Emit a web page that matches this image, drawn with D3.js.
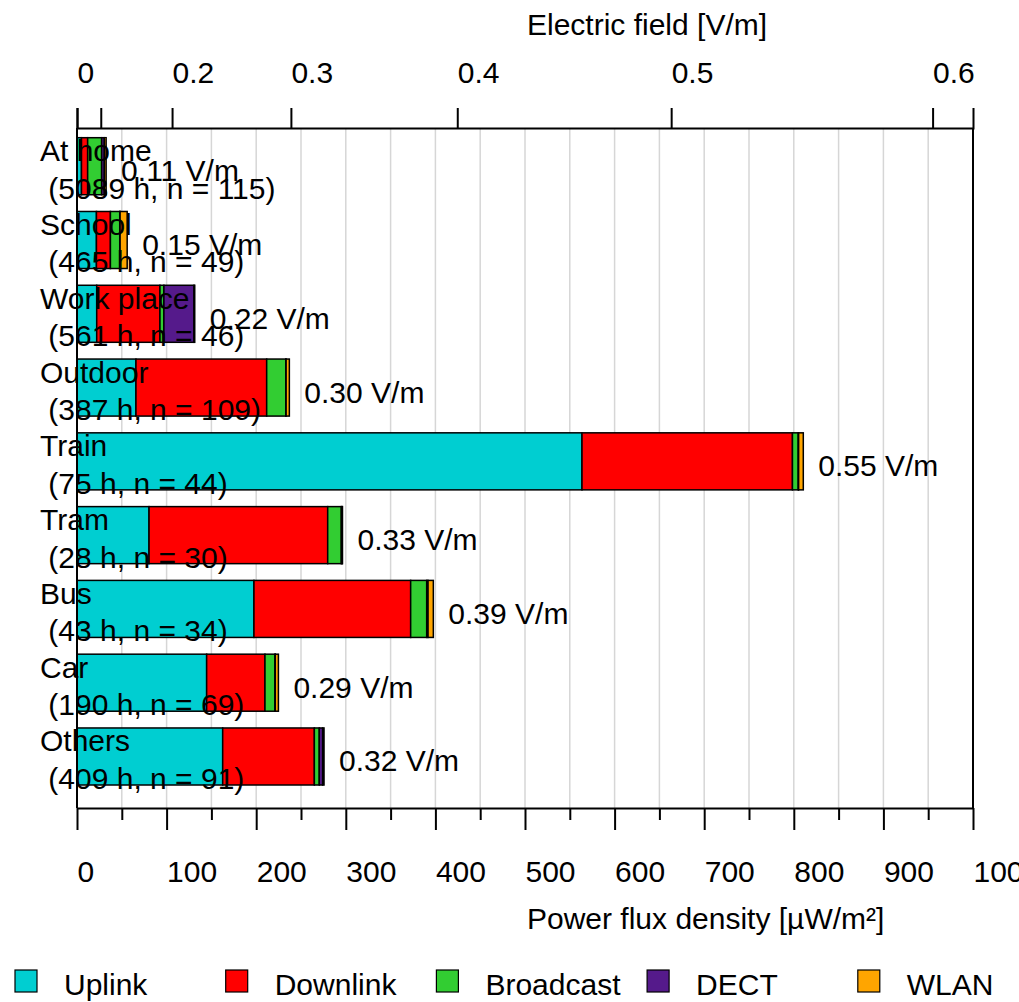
<!DOCTYPE html>
<html>
<head>
<meta charset="utf-8">
<script src="https://cdn.jsdelivr.net/npm/d3@7"></script>
<style>
  html, body { margin: 0; padding: 0; background: #fff; }
  svg { display: block; font-family: "Liberation Sans", Arial, sans-serif; }
  text { fill: #000; }
</style>
</head>
<body>
<svg id="chart" width="1019" height="1002"></svg>
<script>
// Exposure by microenvironment: mean power flux density per source (µW/m²)
const categories = ["At home", "School", "Work place", "Outdoor", "Train", "Tram", "Bus", "Car", "Others"];
const subLabels = ["(5089 h, n = 115)", "(465 h, n = 49)", "(561 h, n = 46)", "(387 h, n = 109)",
                   "(75 h, n = 44)", "(28 h, n = 30)", "(43 h, n = 34)", "(190 h, n = 69)", "(409 h, n = 91)"];
const fieldLabels = ["0.11 V/m", "0.15 V/m", "0.22 V/m", "0.30 V/m", "0.55 V/m", "0.33 V/m", "0.39 V/m", "0.29 V/m", "0.32 V/m"];

const seriesNames = ["Uplink", "Downlink", "Broadcast", "DECT", "WLAN"];
const uplink    = [5.0, 21.7, 22.0, 65.8, 563.6, 80.4, 197.5, 144.7, 162.6];
const downlink  = [6.9, 15.6, 70.6, 145.9, 234.9, 199.4, 174.9, 65.1, 102.3];
const broadcast = [15.6, 10.4, 4.4, 21.3, 6.5, 15.2, 17.9, 11.2, 5.5];
const dect      = [3.0, 0.4, 33.6, 0.4, 0.4, 1.0, 1.5, 0.3, 3.8];
const wlan      = [2.0, 7.9, 0.8, 3.6, 5.2, 0.3, 5.9, 3.5, 1.5];
const seriesColors = ["#00CED1", "#FF0000", "#32CD32", "#551A8B", "#FFA500"];

const bottomTicks = [0, 100, 200, 300, 400, 500, 600, 700, 800, 900, 1000];
const bottomMinorTicks = [50, 150, 250, 350, 450, 550, 650, 750, 850, 950];
const gridValues = [50, 100, 150, 200, 250, 300, 350, 400, 450, 500, 550, 600, 650, 700, 750, 800, 850, 900, 950];
const topTicks = [0, 0.1, 0.2, 0.3, 0.4, 0.5, 0.6];
const topTickLabels = ["0", "", "0.2", "0.3", "0.4", "0.5", "0.6"];

const FS = 30;
const svg = d3.select("#chart");

const plotLeft = 77, plotRight = 973, plotTop = 128, plotBottom = 808;

const x = d3.scaleLinear().domain([0, 1000]).range([plotLeft, plotRight]);
// E = sqrt(S * Z0), Z0 = 377 Ω, S in µW/m²
const Emax = Math.sqrt(1000e-6 * 377);
const xE = d3.scalePow().exponent(2).domain([0, Emax]).range([plotLeft, plotRight]);

const y = d3.scaleBand().domain(categories).range([137.7, 785]).paddingInner(0.227).paddingOuter(0);

const rows = categories.map((c, i) => ({
  cat: c, Uplink: uplink[i], Downlink: downlink[i], Broadcast: broadcast[i], DECT: dect[i], WLAN: wlan[i]
}));
const stacked = d3.stack().keys(seriesNames)(rows);

// grid
svg.append("g").selectAll("line").data(gridValues).join("line")
  .attr("x1", d => x(d)).attr("x2", d => x(d))
  .attr("y1", plotTop).attr("y2", plotBottom)
  .attr("stroke", "#d6d6d6").attr("stroke-width", 1.5);

// bars
const color = d3.scaleOrdinal().domain(seriesNames).range(seriesColors);
svg.append("g").selectAll("g").data(stacked).join("g")
  .attr("fill", d => color(d.key))
  .selectAll("rect").data(d => d).join("rect")
  .attr("x", d => x(d[0]))
  .attr("width", d => x(d[1]) - x(d[0]))
  .attr("y", d => y(d.data.cat))
  .attr("height", y.bandwidth())
  .attr("stroke", "#000").attr("stroke-width", 1.5);

// frame
const axisW = 2;
svg.append("line").attr("x1", plotLeft).attr("x2", plotLeft).attr("y1", plotTop).attr("y2", plotBottom)
  .attr("stroke", "#000").attr("stroke-width", axisW);
svg.append("line").attr("x1", plotRight).attr("x2", plotRight).attr("y1", plotTop).attr("y2", plotBottom)
  .attr("stroke", "#000").attr("stroke-width", axisW);

// bottom axis
const gB = svg.append("g").attr("transform", `translate(0,${plotBottom})`)
  .call(d3.axisBottom(x).tickValues(bottomTicks).tickSize(22).tickSizeOuter(0).tickFormat(d3.format("d")));
const gBm = svg.append("g").attr("transform", `translate(0,${plotBottom})`)
  .call(d3.axisBottom(x).tickValues(bottomMinorTicks).tickSize(12).tickSizeOuter(0).tickFormat(""));
gBm.select(".domain").remove();

// top axis
const gT = svg.append("g").attr("transform", `translate(0,${plotTop})`)
  .call(d3.axisTop(xE).tickValues(topTicks).tickSize(20).tickSizeOuter(20)
    .tickFormat((d, i) => topTickLabels[i]));

[gB, gBm, gT].forEach(g => {
  g.selectAll(".domain").attr("stroke-width", axisW);
  g.selectAll(".tick line").attr("stroke-width", axisW);
  g.selectAll(".tick text")
    .attr("font-size", FS).attr("font-family", "Liberation Sans, Arial, sans-serif")
    .attr("text-anchor", "start").attr("x", 0).attr("dy", 0).attr("fill", "#000");
});
gB.selectAll(".tick text").attr("y", 882 - plotBottom);
gT.selectAll(".tick text").attr("y", 83 - plotTop);

// axis titles
svg.append("text").attr("x", 527).attr("y", 35).attr("font-size", FS).text("Electric field [V/m]");
svg.append("text").attr("x", 527).attr("y", 929).attr("font-size", FS).text("Power flux density [µW/m²]");

// category labels
const totals = rows.map(r => seriesNames.reduce((s, k) => s + r[k], 0));
const lab = svg.append("g").selectAll("g").data(categories).join("g");
lab.append("text").attr("x", 40).attr("y", d => y(d) + 23.5).attr("font-size", FS).text(d => d);
lab.append("text").attr("x", 40).attr("y", d => y(d) + 61)
  .attr("font-size", FS).style("white-space", "pre")
  .text((d, i) => " " + subLabels[i]);

// field value labels
svg.append("g").selectAll("text").data(categories).join("text")
  .attr("x", (d, i) => x(totals[i]) + 15)
  .attr("y", d => y(d) + y.bandwidth() / 2 + 15)
  .attr("font-size", FS)
  .text((d, i) => fieldLabels[i]);

// legend
const leg = svg.append("g").selectAll("g").data(seriesNames).join("g")
  .attr("transform", (d, i) => `translate(${15 + i * 210.7},970)`);
leg.append("rect").attr("width", 22).attr("height", 22)
  .attr("fill", d => color(d)).attr("stroke", "#000").attr("stroke-width", 1.2);
leg.append("text").attr("x", 49).attr("y", 24.5).attr("font-size", FS).text(d => d);
</script>
</body>
</html>
